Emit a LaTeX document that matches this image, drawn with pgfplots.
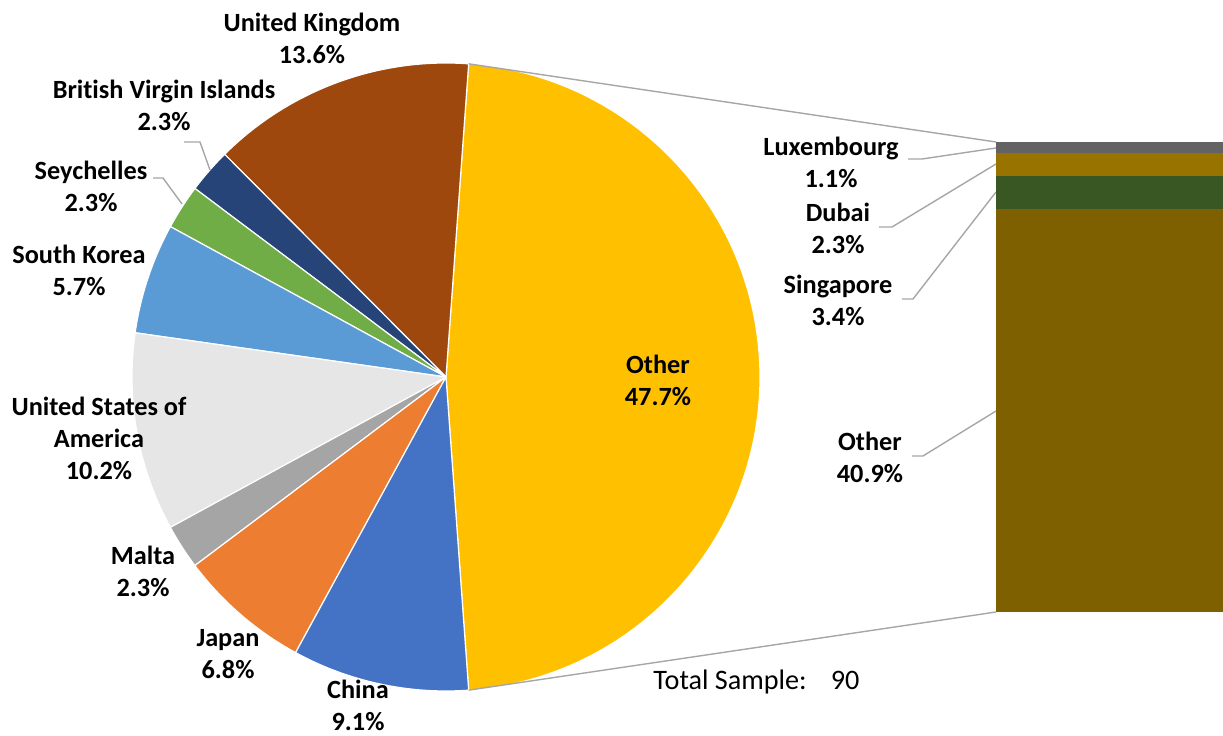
\documentclass[border=0pt]{standalone}
\usepackage{pgfplots}
\pgfplotsset{compat=1.18}
\usepackage{fontspec}
\setmainfont{Carlito}[Ligatures=CommonOff]
\definecolor{cOther}{HTML}{FFC000}
\definecolor{cUK}{HTML}{9E480E}
\definecolor{cBVI}{HTML}{264478}
\definecolor{cSey}{HTML}{70AD47}
\definecolor{cKor}{HTML}{5B9BD5}
\definecolor{cUSA}{HTML}{E7E6E6}
\definecolor{cMal}{HTML}{A5A5A5}
\definecolor{cJap}{HTML}{ED7D31}
\definecolor{cChi}{HTML}{4472C4}
\definecolor{bOther}{HTML}{7F6000}
\definecolor{bSing}{HTML}{385723}
\definecolor{bDub}{HTML}{997300}
\definecolor{bLux}{HTML}{636363}
\definecolor{lead}{HTML}{A6A6A6}
\newcommand\lab{\bfseries\fontsize{13.15}{16}\selectfont}
\def\cx{446}\def\cy{358}\def\R{157pt}
\def\wedge#1/#2\relax{%
  \pgfmathsetmacro\b{\a+3.6*#1}%
  \edef\cmd{\noexpand\fill[fill=#2, draw=white, line width=0.6pt, line join=round] (axis cs:\cx,\cy) -- +(\a:\R) arc[start angle=\a, end angle=\b, radius=\R] -- cycle;}%
  \cmd
  \global\let\a\b}
\begin{document}
\begin{tikzpicture}
\begin{axis}[name=main, x=0.5pt, y=0.5pt, xmin=0, xmax=1223, ymin=0, ymax=735,
  hide axis, clip=false, scale only axis]
\path (axis cs:0,0) rectangle (axis cs:1223,735);
% pie: share of each country (%), counter-clockwise from the right-hand "Other" slice
\pgfmathsetmacro\a{-47.7*1.8}
\pgfplotsforeachungrouped \p in {47.7/cOther,13.6/cUK,2.3/cBVI,2.3/cSey,5.7/cKor,10.2/cUSA,2.3/cMal,6.8/cJap,9.1/cChi}{%
  \expandafter\wedge\p\relax}
\coordinate (barsw) at (axis cs:996,123);
% connectors
\draw[lead, line width=0.7pt] (axis cs:\cx,\cy) ++(85.86:\R) -- (axis cs:996,593);
\draw[lead, line width=0.7pt] (axis cs:\cx,\cy) ++(-85.86:\R) -- (axis cs:996,123);
% leader lines
\draw[lead, line width=0.7pt] (axis cs:184,593) -- (axis cs:200,593) -- (axis cs:210,565);
\draw[lead, line width=0.7pt] (axis cs:153,557) -- (axis cs:163,557) -- (axis cs:182,531);
\draw[lead, line width=0.7pt] (axis cs:908,576) -- (axis cs:922,576) -- (axis cs:996,587);
\draw[lead, line width=0.7pt] (axis cs:879,508) -- (axis cs:892,508) -- (axis cs:996,571);
\draw[lead, line width=0.7pt] (axis cs:902,436) -- (axis cs:913,436) -- (axis cs:996,543);
\draw[lead, line width=0.7pt] (axis cs:912,279) -- (axis cs:923,279) -- (axis cs:996,324);
% labels
\tikzset{lbl/.style={align=center, inner sep=0pt, font=\lab}}
\node[lbl] at (axis cs:312,697) {United Kingdom\\13.6\%};
\node[lbl] at (axis cs:164,630) {British Virgin Islands\\2.3\%};
\node[lbl] at (axis cs:91,549) {Seychelles\\2.3\%};
\node[lbl] at (axis cs:79,465) {South Korea\\5.7\%};
\node[lbl] at (axis cs:99,297) {United States of\\America\\10.2\%};
\node[lbl] at (axis cs:143,164) {Malta\\2.3\%};
\node[lbl] at (axis cs:228,81) {Japan\\6.8\%};
\node[lbl] at (axis cs:358,30) {China\\9.1\%};
\node[lbl] at (axis cs:658,355) {Other\\47.7\%};
\node[lbl] at (axis cs:831,573) {Luxembourg\\1.1\%};
\node[lbl] at (axis cs:838,507) {Dubai\\2.3\%};
\node[lbl] at (axis cs:838,435) {Singapore\\3.4\%};
\node[lbl] at (axis cs:870,278) {Other\\40.9\%};
\node[anchor=base west, inner sep=0pt, font=\fontsize{14.1}{16}\selectfont] at (axis cs:653,46) {Total Sample:\hspace{0.85em}90};
\end{axis}
\begin{axis}[at={(barsw)}, anchor=south west, width=113.5pt, height=235pt,
  scale only axis, hide axis, xmin=0, xmax=1, ymin=0, ymax=47.7,
  ybar stacked, bar width=1, clip=false]
\addplot[fill=bOther, draw=none] coordinates {(0.5,40.9)};
\addplot[fill=bSing, draw=none] coordinates {(0.5,3.4)};
\addplot[fill=bDub, draw=none] coordinates {(0.5,2.3)};
\addplot[fill=bLux, draw=none] coordinates {(0.5,1.1)};
\end{axis}
\end{tikzpicture}
\end{document}
